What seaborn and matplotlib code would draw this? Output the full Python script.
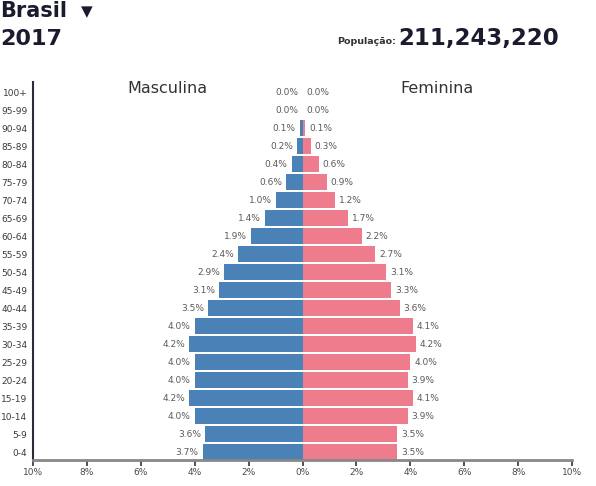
import numpy as np
import pandas as pd
import matplotlib.pyplot as plt
import seaborn as sns

ages = ['100+', '95-99', '90-94', '85-89', '80-84', '75-79', '70-74', '65-69', '60-64',
        '55-59', '50-54', '45-49', '40-44', '35-39', '30-34', '25-29', '20-24', '15-19',
        '10-14', '5-9', '0-4']
male = [0.0, 0.0, 0.1, 0.2, 0.4, 0.6, 1.0, 1.4, 1.9, 2.4, 2.9, 3.1, 3.5, 4.0, 4.2, 4.0,
        4.0, 4.2, 4.0, 3.6, 3.7]
female = [0.0, 0.0, 0.1, 0.3, 0.6, 0.9, 1.2, 1.7, 2.2, 2.7, 3.1, 3.3, 3.6, 4.1, 4.2, 4.0,
          3.9, 4.1, 3.9, 3.5, 3.5]
xticks = [-10, -8, -6, -4, -2, 0, 2, 4, 6, 8, 10]

df = pd.DataFrame({'age': ages, 'male': male, 'female': female})
df['male_neg'] = -df['male']

sns.set_theme(style="white")
plt.rcParams['font.family'] = ['DejaVu Sans']

blue = '#4a81b6'
pink = '#ee7c8c'

fig = plt.figure(figsize=(5.96, 4.86), dpi=100)
ax = fig.add_axes([33 / 596, 26 / 486, (572 - 33) / 596, (460 - 82) / 486])

sns.barplot(data=df, x='male_neg', y='age', order=ages, color=blue, saturation=1,
            width=0.93, linewidth=0, orient='h', ax=ax)
sns.barplot(data=df, x='female', y='age', order=ages, color=pink, saturation=1,
            width=0.93, linewidth=0, orient='h', ax=ax)

for i, (m, f) in enumerate(zip(male, female)):
    ax.text(-m - 0.15, i, f"{m:.1f}%", ha='right', va='center', fontsize=6.5, color='#5a5a5a')
    ax.text(f + 0.15, i, f"{f:.1f}%", ha='left', va='center', fontsize=6.5, color='#5a5a5a')

ax.set_xlim(-10, 10)
ax.set_ylim(20.44, -0.56)
ax.set_xticks(xticks)
ax.set_xticklabels([f"{abs(t)}%" for t in xticks])
ax.set_xlabel('')
ax.set_ylabel('')
ax.tick_params(axis='x', length=4, width=1.2, color='#333333', labelsize=6.5,
               labelcolor='#4a4a4a', pad=2, bottom=True)
ax.tick_params(axis='y', length=0, labelsize=6.5, labelcolor='#3a3a3a', pad=4)
for s in ['top', 'right']:
    ax.spines[s].set_visible(False)
ax.spines['left'].set_color('#2b2b3a')
ax.spines['left'].set_linewidth(1.5)
ax.spines['bottom'].set_color('#888888')
ax.spines['bottom'].set_linewidth(2)

fig.text(167 / 596, 1 - 88 / 486, 'Masculina', ha='center', va='center', fontsize=11.5, color='#333333')
fig.text(437 / 596, 1 - 88 / 486, 'Feminina', ha='center', va='center', fontsize=11.5, color='#333333')

fig.text(0, 1 - 17 / 486, 'Brasil', ha='left', va='baseline', fontsize=15,
         fontweight='bold', color='#1b1b2f')
fig.text(81 / 596, 1 - 16 / 486, '\u25bc', ha='left', va='baseline', fontsize=11,
         color='#1b1b2f')
fig.text(0, 1 - 45 / 486, '2017', ha='left', va='baseline', fontsize=16,
         fontweight='bold', color='#1b1b2f')
fig.text(337 / 596, 1 - 44 / 486, 'População:', ha='left', va='baseline', fontsize=6.8,
         fontweight='bold', color='#333333')
fig.text(398 / 596, 1 - 45 / 486, '211,243,220', ha='left', va='baseline', fontsize=16.5,
         fontweight='bold', color='#1b1b2f')

fig.savefig('out.png', dpi=100)
